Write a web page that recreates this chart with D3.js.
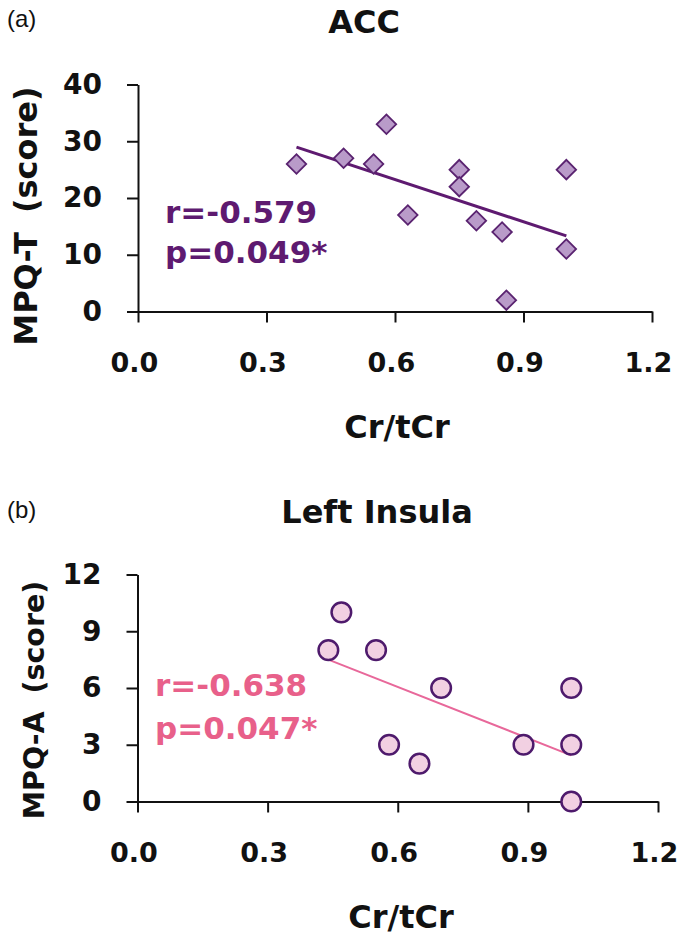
<!DOCTYPE html>
<html>
<head>
<meta charset="utf-8">
<script src="https://cdn.jsdelivr.net/npm/d3@7"></script>
<style>
html,body{margin:0;padding:0;background:#fff;}
svg{display:block;}
text{font-family:"DejaVu Sans",sans-serif;font-weight:bold;}
</style>
</head>
<body>
<svg id="chart" width="680" height="939"></svg>
<script>
// ---- Data ----
const accX = [0.37, 0.48, 0.55, 0.58, 0.63, 0.75, 0.75, 0.79, 0.85, 0.86, 1.00, 1.00];
const accY = [26, 27, 26, 33, 17, 25, 22, 16, 14, 2, 25, 11];
const insX = [0.44, 0.47, 0.55, 0.58, 0.65, 0.70, 0.89, 1.00, 1.00, 1.00];
const insY = [8, 10, 8, 3, 2, 6, 3, 6, 3, 0];
const xTicks = [0.0, 0.3, 0.6, 0.9, 1.2];
const accYTicks = [0, 10, 20, 30, 40];
const insYTicks = [0, 3, 6, 9, 12];
const accStats = ["r=-0.579", "p=0.049*"];
const insStats = ["r=-0.638", "p=0.047*"];

const svg = d3.select("#chart");

function regression(xs, ys) {
  const n = xs.length;
  const mx = d3.mean(xs), my = d3.mean(ys);
  let sxy = 0, sxx = 0;
  for (let i = 0; i < n; i++) { sxy += (xs[i]-mx)*(ys[i]-my); sxx += (xs[i]-mx)**2; }
  const b = sxy / sxx, a = my - b*mx;
  return x => a + b*x;
}

function panel(cfg) {
  const g = svg.append("g");
  const x = d3.scaleLinear().domain([0, 1.2]).range(cfg.xr);
  const y = d3.scaleLinear().domain(cfg.yd).range(cfg.yr);

  // panel letter
  g.append("text").attr("x", 7).attr("y", cfg.letterY)
    .style("font-family", "'Liberation Sans', Arial, sans-serif")
    .style("font-weight", "normal").style("font-size", "24px")
    .attr("fill", "#111").text(cfg.letter);

  // title
  g.append("text").attr("x", cfg.titleX).attr("y", cfg.titleY)
    .attr("text-anchor", "middle").style("font-size", "32px")
    .attr("fill", "#111").text(cfg.title);

  // axes
  const xa = g.append("g").attr("transform", `translate(0,${cfg.yr[0]})`)
    .call(d3.axisBottom(x).tickValues(xTicks).tickFormat(d3.format(".1f"))
      .tickSize(11).tickSizeOuter(0).tickPadding(30));
  const ya = g.append("g").attr("transform", `translate(${cfg.xr[0]},0)`)
    .call(d3.axisLeft(y).tickValues(cfg.yTicks).tickFormat(d3.format("d"))
      .tickSize(11).tickSizeOuter(0).tickPadding(25));
  [xa, ya].forEach(a => {
    a.selectAll("path,line").attr("stroke", "#111").attr("stroke-width", 2);
    a.selectAll("text").attr("fill", "#111").style("font-size", "28px")
      .style("font-family", "'DejaVu Sans',sans-serif").style("font-weight", "bold");
  });
  xa.selectAll("text").style("font-size", "27px").attr("dx", -4);

  // axis labels
  g.append("text").attr("x", cfg.xLabelX).attr("y", cfg.xLabelY)
    .attr("text-anchor", "middle").style("font-size", "32px")
    .attr("fill", "#111").text("Cr/tCr");
  g.append("text")
    .attr("transform", `translate(${cfg.yLabelX},${cfg.yLabelY}) rotate(-90)`)
    .attr("text-anchor", "middle").style("font-size", cfg.yLabelSize)
    .style("word-spacing", "8px")
    .attr("fill", "#111").text(cfg.yLabel);

  // regression line
  const f = regression(cfg.xs, cfg.ys);
  const x0 = d3.min(cfg.xs), x1 = d3.max(cfg.xs);
  g.append("line")
    .attr("x1", x(x0)).attr("y1", y(f(x0)))
    .attr("x2", x(x1)).attr("y2", y(f(x1)))
    .attr("stroke", cfg.lineColor).attr("stroke-width", cfg.lineWidth);

  // points
  const pts = cfg.xs.map((v, i) => ({x: v, y: cfg.ys[i]}));
  if (cfg.marker === "diamond") {
    const sym = d3.symbol().type(d3.symbolSquare).size(190);
    g.selectAll("path.pt").data(pts).enter().append("path").attr("class", "pt")
      .attr("d", sym)
      .attr("transform", d => `translate(${x(d.x)},${y(d.y)}) rotate(45)`)
      .attr("fill", cfg.fill).attr("stroke", cfg.stroke).attr("stroke-width", 1.8);
  } else {
    g.selectAll("circle.pt").data(pts).enter().append("circle").attr("class", "pt")
      .attr("cx", d => x(d.x)).attr("cy", d => y(d.y)).attr("r", 9.8)
      .attr("fill", cfg.fill).attr("stroke", cfg.stroke).attr("stroke-width", 2.5);
  }

  // stats text
  cfg.stats.forEach((s, i) => {
    g.append("text").attr("x", cfg.statX).attr("y", cfg.statY[i])
      .style("font-size", "31px").attr("fill", cfg.statColor).text(s);
  });
}

panel({
  letter: "(a)", letterY: 27,
  title: "ACC", titleX: 364, titleY: 33,
  xr: [138, 652], yd: [0, 40], yr: [311.5, 84.5], yTicks: accYTicks,
  xLabelX: 397, xLabelY: 438,
  yLabel: "MPQ-T (score)", yLabelX: 37, yLabelY: 216, yLabelSize: "32px",
  xs: accX, ys: accY, marker: "diamond",
  fill: "#b99bc9", stroke: "#5a2370",
  lineColor: "#5e1a70", lineWidth: 3,
  stats: accStats, statX: 165, statY: [222.5, 263], statColor: "#5e1a70"
});

panel({
  letter: "(b)", letterY: 518,
  title: "Left Insula", titleX: 377, titleY: 523,
  xr: [137.5, 658], yd: [0, 12], yr: [801.5, 574.5], yTicks: insYTicks,
  xLabelX: 401, xLabelY: 928,
  yLabel: "MPQ-A (score)", yLabelX: 44, yLabelY: 700, yLabelSize: "28.5px",
  xs: insX, ys: insY, marker: "circle",
  fill: "#f2d0e2", stroke: "#4e1a6c",
  lineColor: "#e8689a", lineWidth: 2,
  stats: insStats, statX: 155, statY: [696, 739], statColor: "#e8608a"
});
</script>
</body>
</html>
